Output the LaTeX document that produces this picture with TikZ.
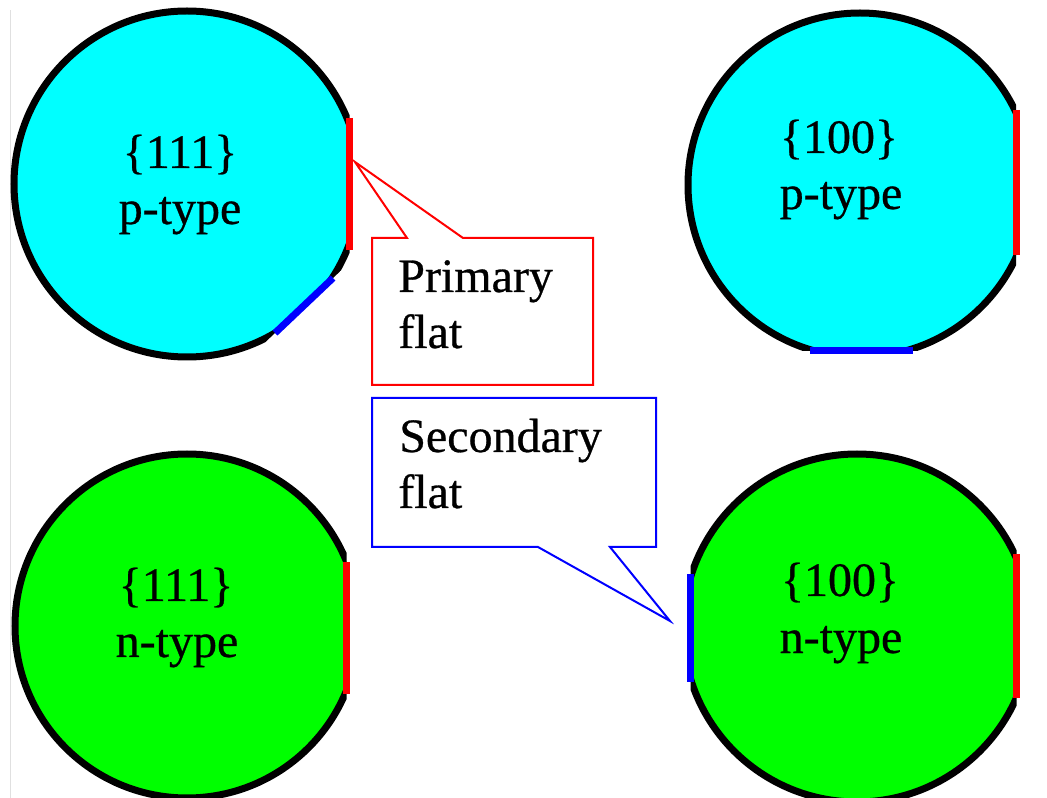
\documentclass[tikz,border=0pt]{standalone}
\usepackage{fontspec}
\setmainfont{Liberation Serif}[FakeBold=0.6]
\definecolor{wcyan}{RGB}{0,255,255}
\definecolor{wgreen}{RGB}{0,255,0}
\definecolor{wred}{RGB}{255,0,0}
\definecolor{wblue}{RGB}{0,0,255}
\begin{document}
\begin{tikzpicture}[x=0.75pt,y=-0.75pt,
  wafer/.style={draw=black, line width=5.25pt},
  redflat/.style={draw=wred, line width=5.25pt},
  blueflat/.style={draw=wblue, line width=5.25pt},
  wlabel/.style={font=\fontsize{36}{42}\selectfont, inner sep=0pt, anchor=base},
  clabel/.style={font=\fontsize{36}{42}\selectfont, inner sep=0pt, anchor=base west},
  callred/.style={draw=wred, line width=1.5pt, line join=miter},
  callblue/.style={draw=wblue, line width=1.5pt, line join=miter}]
\useasboundingbox (0,0) rectangle (1047,798);
\draw[black!12, line width=0.75pt] (10.5,10) -- (10.5,798);

% ---- top left: {111} p-type
\begin{scope}
  \clip (0,0) -- (349.5,0) -- (349.5,262.4) -- (204.3,400) -- (0,400) -- cycle;
  \filldraw[wafer, fill=wcyan] (187,184) circle[radius=129.75pt];
\end{scope}
\draw[redflat] (349.5,118) -- (349.5,250);
\draw[blueflat] (275,333) -- (333,278);
\node[wlabel] (tlA) at (180,168) {\{111\}};
\node[wlabel] (tlB) at (180,224) {p-type};

% ---- top right: {100} p-type
\begin{scope}
  \clip (600,0) rectangle (1016,350.5);
  \filldraw[wafer, fill=wcyan] (860,185) circle[radius=129pt];
\end{scope}
\draw[redflat] (1016,110) -- (1016,255);
\draw[blueflat] (810,350.5) -- (913,350.5);
\node[wlabel] (trA) at (839,153) {\{100\}};
\node[wlabel] (trB) at (841,209) {p-type};

% ---- bottom left: {111} n-type
\begin{scope}
  \clip (0,420) rectangle (346.5,798);
  \filldraw[wafer, fill=wgreen] (187,626) circle[radius=129pt];
\end{scope}
\draw[redflat] (346.5,562) -- (346.5,694);
\node[wlabel] (blA) at (176,601) {\{111\}};
\node[wlabel] (blB) at (177,657) {n-type};

% ---- bottom right: {100} n-type
\begin{scope}
  \clip (690.5,420) rectangle (1016.5,798);
  \filldraw[wafer, fill=wgreen] (857,628) circle[radius=130.5pt];
\end{scope}
\draw[blueflat] (690.5,574) -- (690.5,682);
\draw[redflat] (1016.5,554) -- (1016.5,698);
\node[wlabel] (brA) at (840,596) {\{100\}};
\node[wlabel] (brB) at (841,653) {n-type};

% ---- callouts
\coordinate (ptip) at (355,162);
\coordinate (stip) at (670,621);
\draw[callred] (372,238) -- (407,238) -- (ptip) -- (463,238) -- (593,238)
  -- (593,385) -- (372,385) -- cycle;
\node[clabel] (prim1) at (398,292) {Primary};
\node[clabel] (prim2) at (398,348) {flat};

\draw[callblue] (372,398) -- (656,398) -- (656,547) -- (610,547) -- (stip)
  -- (538,547) -- (372,547) -- cycle;
\node[clabel] (sec1) at (399,452) {Secondary};
\node[clabel] (sec2) at (398,508) {flat};
\end{tikzpicture}
\end{document}
